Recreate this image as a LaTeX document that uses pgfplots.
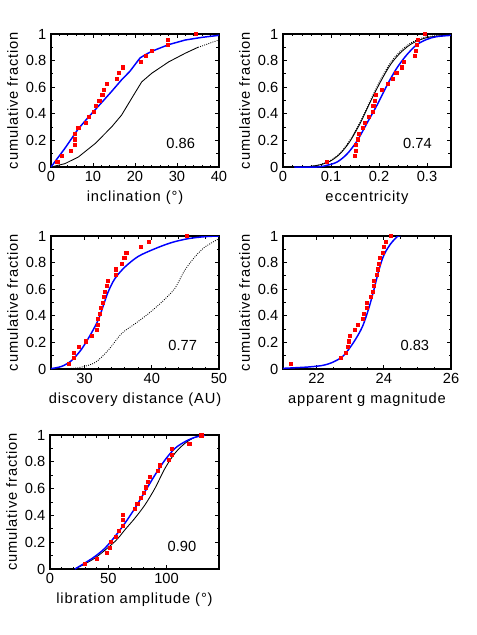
\documentclass[border=0pt]{standalone}
\usepackage{fontspec}
\setmainfont{Liberation Sans}
\newfontfamily\labelfont{Liberation Sans}[LetterSpace=6]
\usepackage{pgfplots}
\pgfplotsset{compat=1.18}
\newlength\px \setlength\px{0.75pt}
\pgfplotsset{
  panel/.style={
    scale only axis, width=168\px, height=133\px, anchor=north west,
    ymin=0, ymax=1, ytick={0,0.2,0.4,0.6,0.8,1}, minor y tick num=1,
    tick align=inside, xtick pos=both, ytick pos=both,
    major tick length=4\px, minor tick length=2.5\px,
    axis line style={line width=1.3\px},
    every tick/.style={black, line width=0.9\px},
    tick label style={font=\fontsize{11}{12}\selectfont},
    /pgf/number format/assume math mode=true,
    label style={font=\labelfont\fontsize{11}{12}\selectfont},
    ylabel={cumulative fraction},
    ylabel style={yshift=-1pt},
  },
  bl/.style={blue, line width=1.1pt, no markers},
  bk/.style={black, line width=0.65pt, no markers},
  rd/.style={only marks, mark=square*, mark size=1.15pt, red, mark options={draw=none, fill=red}},
}
\tikzset{ann/.style={anchor=east, font=\fontsize{11}{12}\selectfont}}
\begin{document}
\begin{tikzpicture}
\useasboundingbox (0,0) rectangle (477\px,-635\px);
% Panel 1
\begin{axis}[panel, at={(51\px,-34\px)}, xmin=0, xmax=40, xtick={0,10,20,30,40}, minor x tick num=4,
  xlabel={inclination (\textdegree)}]
\addplot[bk] coordinates {(0,0) (3.3,0.025) (6.5,0.075) (10.5,0.176) (14.4,0.30) (16.8,0.39) (19.2,0.516) (21.6,0.64) (24,0.705) (28,0.79) (32,0.856) (35,0.9)};
\addplot[bk, densely dotted] coordinates {(35,0.9) (36,0.91) (38.3,0.937) (40,0.955)};
\addplot[bl] coordinates {(0,0) (2,0.085) (3.3,0.14) (6.5,0.287) (8.5,0.36) (10.5,0.43) (12.5,0.5) (14.4,0.567) (16.8,0.655) (18.8,0.72) (20,0.77) (21.2,0.82) (22.5,0.845) (24,0.87) (28,0.92) (32,0.955) (36,0.975) (40,0.99)};
\addplot[rd] coordinates {(1.5,0.0417) (2.5,0.0833) (4.8,0.125) (5.6,0.1667) (5.6,0.2083) (5.7,0.25) (6.5,0.2917) (8.3,0.3333) (9.0,0.375) (10.2,0.4167) (10.7,0.4583) (11.5,0.5) (12.2,0.5417) (12.5,0.5833) (13.2,0.625) (15.6,0.6667) (16.2,0.7083) (17.1,0.75) (21.4,0.7917) (22.6,0.8333) (23.9,0.875) (27.7,0.9167) (27.9,0.9583) (34.5,1.0)};
\node[ann] at (rel axis cs:0.885,0.18) {0.86};
\end{axis}
% Panel 2
\begin{axis}[panel, at={(283\px,-34\px)}, xmin=0, xmax=0.35, xtick={0,0.1,0.2,0.3}, minor x tick num=4,
  xlabel={eccentricity}]
\addplot[bk, smooth] coordinates {(0.04,0) (0.058,0.005) (0.079,0.018) (0.099,0.045) (0.119,0.1) (0.139,0.19) (0.161,0.33) (0.182,0.49) (0.203,0.64) (0.224,0.77) (0.244,0.856) (0.265,0.92) (0.286,0.957) (0.306,0.977) (0.35,0.995)};
\addplot[bk, densely dotted, smooth] coordinates {(0.05,0) (0.079,0.02) (0.099,0.05) (0.119,0.105) (0.139,0.2) (0.161,0.34) (0.182,0.5) (0.203,0.655) (0.224,0.785) (0.244,0.87) (0.265,0.93) (0.286,0.965) (0.306,0.983) (0.35,0.997)};
\addplot[bl, smooth] coordinates {(0.023,0) (0.072,0) (0.092,0.013) (0.113,0.038) (0.134,0.1) (0.155,0.2) (0.175,0.33) (0.196,0.466) (0.217,0.617) (0.237,0.743) (0.258,0.844) (0.279,0.92) (0.3,0.96) (0.32,0.98) (0.35,0.99)};
\addplot[rd] coordinates {(0.091,0.0417) (0.15,0.0833) (0.151,0.125) (0.152,0.1667) (0.155,0.2083) (0.158,0.25) (0.166,0.2917) (0.17,0.3333) (0.179,0.375) (0.187,0.4167) (0.188,0.4583) (0.191,0.5) (0.194,0.5417) (0.206,0.5833) (0.218,0.625) (0.228,0.6667) (0.236,0.7083) (0.247,0.75) (0.251,0.7917) (0.274,0.8333) (0.277,0.875) (0.279,0.9167) (0.281,0.9583) (0.296,1.0)};
\node[ann] at (rel axis cs:0.913,0.18) {0.74};
\end{axis}
% Panel 3
\begin{axis}[panel, at={(51\px,-236\px)}, xmin=25, xmax=50, xtick={30,40,50}, minor x tick num=4,
  xlabel={discovery distance (AU)}]
\addplot[bk, densely dotted, smooth] coordinates {(25,0) (28.1,0.005) (29.6,0.015) (31.6,0.05) (33.5,0.14) (35.5,0.266) (37.5,0.34) (39.5,0.416) (41.5,0.504) (43.4,0.604) (44.9,0.742) (46.4,0.842) (47.9,0.917) (50,0.98)};
\addplot[bl, smooth] coordinates {(25,0.003) (26.6,0.02) (28.1,0.065) (29.6,0.153) (31.1,0.278) (32.1,0.378) (32.8,0.479) (33.5,0.579) (34.5,0.679) (36,0.767) (38,0.847) (40.5,0.905) (42.9,0.95) (45.4,0.98) (47.9,0.995) (50,1)};
\addplot[rd] coordinates {(27.7,0.0417) (28.45,0.0833) (28.45,0.125) (29.2,0.1667) (30.2,0.2083) (31.1,0.25) (31.8,0.2917) (32.0,0.3333) (32.0,0.375) (32.3,0.4167) (32.4,0.4583) (32.65,0.5) (32.86,0.5417) (32.95,0.5833) (33.25,0.625) (33.5,0.6667) (34.7,0.7083) (34.7,0.75) (35.6,0.7917) (35.9,0.8333) (36.2,0.875) (38.4,0.9167) (39.5,0.9583) (45.2,1.0)};
\node[ann] at (rel axis cs:0.897,0.18) {0.77};
\end{axis}
% Panel 4
\begin{axis}[panel, at={(283\px,-236\px)}, xmin=21, xmax=26, xtick={22,24,26}, minor x tick num=3,
  xlabel={apparent g magnitude}]
\addplot[bl, smooth] coordinates {(21,0.005) (21.4,0.01) (21.8,0.016) (22.2,0.028) (22.5,0.053) (22.8,0.10) (23.1,0.2) (23.36,0.316) (23.55,0.454) (23.7,0.59) (23.85,0.74) (24.0,0.855) (24.2,0.94) (24.41,0.997) (24.5,1.0)};
\addplot[rd] coordinates {(21.24,0.0417) (22.72,0.0833) (22.88,0.125) (22.93,0.1667) (22.96,0.2083) (22.99,0.25) (23.13,0.2917) (23.23,0.3333) (23.36,0.375) (23.41,0.4167) (23.49,0.4583) (23.5,0.5) (23.6,0.5417) (23.67,0.5833) (23.7,0.625) (23.7,0.6667) (23.8,0.7083) (23.82,0.75) (23.85,0.7917) (23.87,0.8333) (23.98,0.875) (24.0,0.9167) (24.05,0.9583) (24.2,1.0)};
\node[ann] at (rel axis cs:0.898,0.18) {0.83};
\end{axis}
% Panel 5
\begin{axis}[panel, at={(50\px,-435\px)}, height=134\px, width=169\px, xmin=0, xmax=145, xtick={0,50,100}, minor x tick num=4,
  xlabel={libration amplitude (\textdegree)}]
\addplot[bk, smooth] coordinates {(21.4,0) (38.6,0.082) (55.8,0.206) (64.3,0.293) (72.9,0.38) (81.5,0.479) (90.1,0.603) (98.7,0.752) (107.2,0.864) (115.8,0.938) (124.4,0.983) (133,0.998)};
\addplot[bl, smooth] coordinates {(21.4,0) (30,0.045) (38.6,0.094) (47.2,0.156) (55.8,0.243) (64.3,0.342) (72.9,0.454) (81.5,0.578) (90.1,0.702) (98.7,0.814) (107.2,0.9) (115.8,0.95) (124.4,0.983) (133,0.998)};
\addplot[rd] coordinates {(30.0,0.040) (40.0,0.079) (48.6,0.122) (51.5,0.161) (52.0,0.201) (56.3,0.243) (59.2,0.285) (62.3,0.323) (62.6,0.365) (62.6,0.404) (72.9,0.447) (74.9,0.486) (77.5,0.529) (80.1,0.568) (82.4,0.610) (83.5,0.650) (85.5,0.690) (92.1,0.732) (94.1,0.774) (102.1,0.814) (104.1,0.856) (104.1,0.896) (119.5,0.935) (129.8,0.998)};
\node[ann] at (rel axis cs:0.893,0.17) {0.90};
\end{axis}
\end{tikzpicture}
\end{document}
